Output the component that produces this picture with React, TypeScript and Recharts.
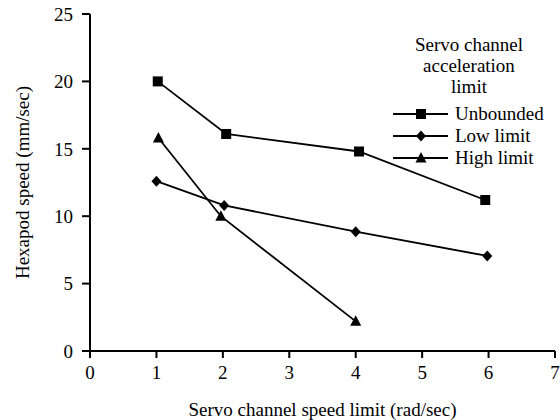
import React from 'react';
import { LineChart, Line, XAxis, YAxis, Legend } from 'recharts';

const FONT = '"Liberation Serif", "Times New Roman", serif';

const seriesNames = ['Unbounded', 'Low limit', 'High limit'];
const unboundedX = [1.02, 2.05, 4.05, 5.95];
const unboundedY = [20, 16.1, 14.8, 11.2];
const lowX = [1.0, 2.02, 4.0, 5.98];
const lowY = [12.6, 10.8, 8.85, 7.05];
const highX = [1.03, 1.97, 4.0];
const highY = [15.8, 10.0, 2.2];
const xTicks = [0, 1, 2, 3, 4, 5, 6, 7];
const yTicks = [0, 5, 10, 15, 20, 25];
const legendTitle = ['Servo channel', 'acceleration', 'limit'];
const xLabel = 'Servo channel speed limit (rad/sec)';
const yLabel = 'Hexapod speed (mm/sec)';

const toPoints = (xs: number[], ys: number[]) => xs.map((x, i) => ({ x, y: ys[i] }));
const unboundedData = toPoints(unboundedX, unboundedY);
const lowData = toPoints(lowX, lowY);
const highData = toPoints(highX, highY);

const marker = (kind: number, cx: number, cy: number, key?: any) => {
  if (kind === 0) return <rect key={key} x={cx - 5} y={cy - 5} width={10} height={10} fill="#000" />;
  if (kind === 1)
    return <polygon key={key} points={`${cx},${cy - 5.5} ${cx + 5},${cy} ${cx},${cy + 5.5} ${cx - 5},${cy}`} fill="#000" />;
  return <polygon key={key} points={`${cx},${cy - 6} ${cx + 5.5},${cy + 4.5} ${cx - 5.5},${cy + 4.5}`} fill="#000" />;
};

const makeDot = (kind: number) => (p: any) => {
  if (p.cx == null || p.cy == null) return <g key={p.index} />;
  return marker(kind, p.cx, p.cy, `${kind}-${p.index}`);
};

const LegendContent = (props: any) => {
  const payload = [...(props.payload || [])].sort(
    (a: any, b: any) => seriesNames.indexOf(a.value) - seriesNames.indexOf(b.value)
  );
  return (
    <div style={{ fontFamily: FONT, fontSize: 19, color: '#000' }}>
      <div style={{ textAlign: 'center', lineHeight: '21px', width: 158 }}>
        {legendTitle.map((t) => (
          <div key={t}>{t}</div>
        ))}
      </div>
      <div style={{ marginTop: 6 }}>
        {payload.map((entry: any, i: number) => (
          <div key={i} style={{ display: 'flex', alignItems: 'center', height: 22 }}>
            <svg width={65} height={22} style={{ display: 'block' }}>
              <line x1={3} y1={11} x2={58} y2={11} stroke="#000" strokeWidth={1.8} />
              {marker(seriesNames.indexOf(entry.value), 31, 11)}
            </svg>
            <span style={{ lineHeight: '22px' }}>{entry.value}</span>
          </div>
        ))}
      </div>
    </div>
  );
};

const YTitle = (props: any) => {
  const vb = props.viewBox || {};
  const cx = vb.x + 22;
  const cy = vb.y + vb.height / 2;
  return (
    <text x={cx} y={cy} transform={`rotate(-90, ${cx}, ${cy})`} textAnchor="middle" dominantBaseline="central"
      fontFamily={FONT} fontSize={19} fill="#000">
      {yLabel}
    </text>
  );
};

const XTitle = (props: any) => {
  const vb = props.viewBox || {};
  const cx = vb.x + vb.width / 2;
  const cy = vb.y + 58;
  return (
    <text x={cx} y={cy} textAnchor="middle" dominantBaseline="central" fontFamily={FONT} fontSize={19} fill="#000">
      {xLabel}
    </text>
  );
};

export default function App() {
  const tickStyle = { fontFamily: FONT, fontSize: 19, fill: '#000' };
  return (
    <div style={{ position: 'absolute', left: 0, top: 0, width: 560, height: 420, background: '#fff' }}>
      <LineChart width={560} height={420} margin={{ top: 14, right: 5, left: 0, bottom: 0 }}>
        <XAxis
          type="number"
          dataKey="x"
          domain={[0, 7]}
          ticks={xTicks}
          interval={0}
          height={69}
          stroke="#000"
          strokeWidth={2}
          tickSize={7}
          tickMargin={8}
          tick={tickStyle}
          tickLine={{ stroke: '#000', strokeWidth: 2 }}
          allowDataOverflow
          label={<XTitle />}
        />
        <YAxis
          type="number"
          dataKey="y"
          domain={[0, 25]}
          ticks={yTicks}
          interval={0}
          width={90}
          stroke="#000"
          strokeWidth={2}
          tickSize={8}
          tickMargin={9}
          tick={tickStyle}
          tickLine={{ stroke: '#000', strokeWidth: 2 }}
          allowDataOverflow
          label={<YTitle />}
        />
        <Legend
          layout="vertical"
          align="center"
          verticalAlign="middle"
          width={160}
          wrapperStyle={{ top: 34, left: 390, width: 160 }}
          content={<LegendContent />}
        />
        <Line data={unboundedData} dataKey="y" name={seriesNames[0]} stroke="#000" strokeWidth={1.8}
          dot={makeDot(0)} activeDot={false} isAnimationActive={false} legendType="line" />
        <Line data={lowData} dataKey="y" name={seriesNames[1]} stroke="#000" strokeWidth={1.8}
          dot={makeDot(1)} activeDot={false} isAnimationActive={false} legendType="line" />
        <Line data={highData} dataKey="y" name={seriesNames[2]} stroke="#000" strokeWidth={1.8}
          dot={makeDot(2)} activeDot={false} isAnimationActive={false} legendType="line" />
      </LineChart>
    </div>
  );
}
